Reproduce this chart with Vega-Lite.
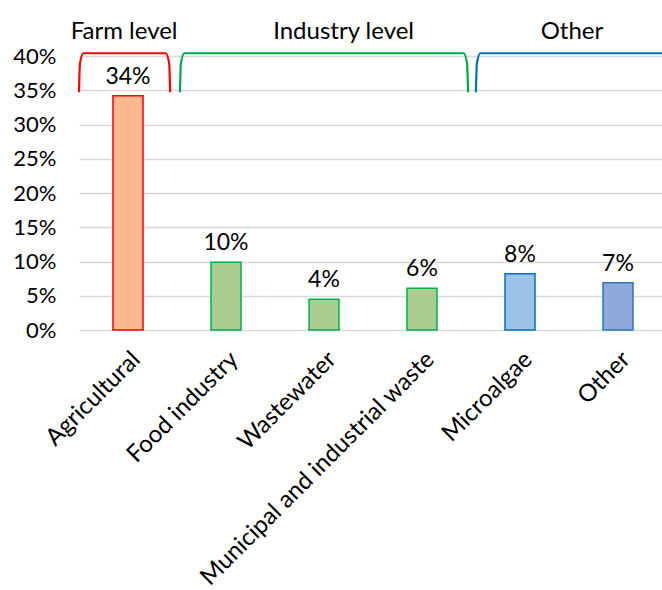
{
  "$schema": "https://vega.github.io/schema/vega-lite/v6.json",
  "width": 588,
  "height": 274,
  "autosize": "none",
  "padding": {"left": 79, "top": 56, "right": 0, "bottom": 260},
  "config": {"font": "Lato", "view": {"stroke": null}},
  "datasets": {
    "bars": [
      {"source": "Agricultural", "share": 34.2, "label": "34%"},
      {"source": "Food industry", "share": 9.9, "label": "10%"},
      {"source": "Wastewater", "share": 4.5, "label": "4%"},
      {"source": "Municipal and industrial waste", "share": 6.1, "label": "6%"},
      {"source": "Microalgae", "share": 8.2, "label": "8%"},
      {"source": "Other", "share": 6.9, "label": "7%"}
    ],
    "brackets": [
      {"group": "Farm level", "bx": 0.0, "by": 34.7},
      {"group": "Farm level", "bx": 0.01, "by": 38.9},
      {"group": "Farm level", "bx": 0.045, "by": 40.4},
      {"group": "Farm level", "bx": 0.885, "by": 40.4},
      {"group": "Farm level", "bx": 0.92, "by": 38.9},
      {"group": "Farm level", "bx": 0.93, "by": 34.7},
      {"group": "Industry level", "bx": 1.03, "by": 34.7},
      {"group": "Industry level", "bx": 1.04, "by": 38.9},
      {"group": "Industry level", "bx": 1.075, "by": 40.4},
      {"group": "Industry level", "bx": 3.925, "by": 40.4},
      {"group": "Industry level", "bx": 3.96, "by": 38.9},
      {"group": "Industry level", "bx": 3.97, "by": 34.7},
      {"group": "Other", "bx": 4.05, "by": 34.7},
      {"group": "Other", "bx": 4.06, "by": 38.9},
      {"group": "Other", "bx": 4.095, "by": 40.4},
      {"group": "Other", "bx": 6.2, "by": 40.4}
    ],
    "groups": [
      {"group": "Farm level", "gx": 0.46, "gy": 43.5},
      {"group": "Industry level", "gx": 2.7, "gy": 43.5},
      {"group": "Other", "gx": 5.03, "gy": 43.5}
    ]
  },
  "layer": [
    {
      "data": {"name": "bars"},
      "encoding": {
        "x": {
          "field": "source",
          "type": "nominal",
          "sort": null,
          "scale": {"paddingInner": 0, "paddingOuter": 0},
          "axis": {
            "title": null,
            "labelAngle": -45,
            "labelFontSize": 24,
            "labelColor": "#000000",
            "ticks": false,
            "domain": false,
            "labelPadding": 17,
            "labelLimit": 500,
            "labelOverlap": false
          }
        },
        "y": {
          "field": "share",
          "type": "quantitative",
          "scale": {"domain": [0, 40], "nice": false},
          "axis": {
            "title": null,
            "values": [0, 5, 10, 15, 20, 25, 30, 35, 40],
            "labelExpr": "datum.value + '%'",
            "labelFontSize": 22,
            "labelColor": "#000000",
            "labelPadding": 23,
            "labelOverlap": false,
            "ticks": false,
            "domain": false,
            "gridColor": "#D9D9D9",
            "gridWidth": 1.5
          }
        }
      },
      "layer": [
        {
          "mark": {"type": "bar", "width": 30, "strokeWidth": 1.5},
          "encoding": {
            "fill": {
              "field": "source",
              "type": "nominal",
              "legend": null,
              "scale": {
                "domain": ["Agricultural", "Food industry", "Wastewater", "Municipal and industrial waste", "Microalgae", "Other"],
                "range": ["#F9B98C", "#A9CE8F", "#A9CE8F", "#A9CE8F", "#9DC3E6", "#8EAADB"]
              }
            },
            "stroke": {
              "field": "source",
              "type": "nominal",
              "legend": null,
              "scale": {
                "domain": ["Agricultural", "Food industry", "Wastewater", "Municipal and industrial waste", "Microalgae", "Other"],
                "range": ["#FF0000", "#00B050", "#00B050", "#00B050", "#0070C0", "#2E75B6"]
              }
            }
          }
        },
        {
          "mark": {"type": "text", "fontSize": 23, "baseline": "bottom", "dy": -7, "color": "#000000"},
          "encoding": {"text": {"field": "label"}}
        }
      ]
    },
    {
      "layer": [
        {
          "data": {"name": "brackets"},
          "mark": {"type": "line", "interpolate": "monotone", "strokeWidth": 2.2},
          "encoding": {
            "x": {"field": "bx", "type": "quantitative", "scale": {"domain": [0, 6], "nice": false, "zero": false}, "axis": null},
            "y": {
              "field": "by",
              "type": "quantitative",
              "axis": {
                "title": null,
                "values": [0, 5, 10, 15, 20, 25, 30, 35, 40],
                "labelExpr": "datum.value + '%'",
                "labelFontSize": 22,
                "labelColor": "#000000",
                "labelPadding": 23,
                "labelOverlap": false,
                "ticks": false,
                "domain": false,
                "gridColor": "#D9D9D9",
                "gridWidth": 1.5
              }
            },
            "color": {
              "field": "group",
              "type": "nominal",
              "legend": null,
              "scale": {"domain": ["Farm level", "Industry level", "Other"], "range": ["#FF0000", "#00A64F", "#0070C0"]}
            }
          }
        },
        {
          "data": {"name": "groups"},
          "mark": {"type": "text", "fontSize": 24, "baseline": "middle", "color": "#000000"},
          "encoding": {
            "x": {"field": "gx", "type": "quantitative"},
            "y": {
              "field": "gy",
              "type": "quantitative",
              "axis": {
                "title": null,
                "values": [0, 5, 10, 15, 20, 25, 30, 35, 40],
                "labelExpr": "datum.value + '%'",
                "labelFontSize": 22,
                "labelColor": "#000000",
                "labelPadding": 23,
                "labelOverlap": false,
                "ticks": false,
                "domain": false,
                "gridColor": "#D9D9D9",
                "gridWidth": 1.5
              }
            },
            "text": {"field": "group"}
          }
        }
      ]
    }
  ],
  "resolve": {"scale": {"x": "independent", "fill": "independent", "stroke": "independent", "color": "independent"}}
}
